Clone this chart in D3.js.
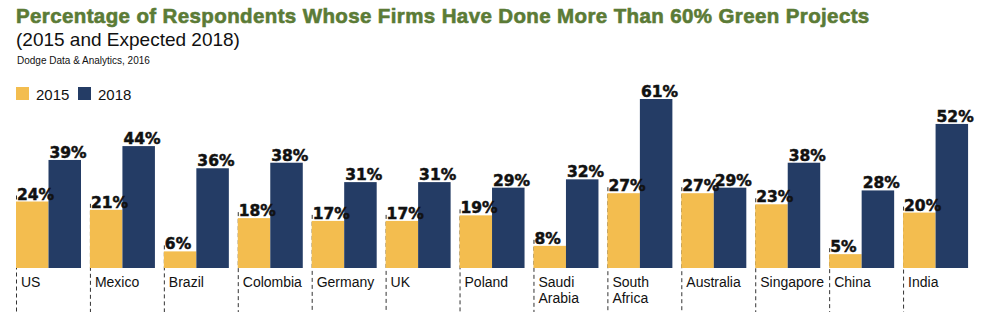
<!DOCTYPE html>
<html><head><meta charset="utf-8">
<script src="https://cdn.jsdelivr.net/npm/d3@7"></script>
<style>body{margin:0;background:#fff}svg{display:block}</style>
</head><body>
<svg id="c" width="1000" height="326"></svg>
<script>
const categories = ["US","Mexico","Brazil","Colombia","Germany","UK","Poland","Saudi Arabia","South Africa","Australia","Singapore","China","India"];
const values2015 = [24,21,6,18,17,17,19,8,27,27,23,5,20];
const values2018 = [39,44,36,38,31,31,29,32,61,29,38,28,52];
const seriesNames = ["2015","2018"];
const colors = ["#f3bd4f","#243c65"];

const svg = d3.select("#c");
const baseY = 268, topY = 99;
const x = d3.scaleBand().domain(categories).range([16, 977]).paddingInner(0).paddingOuter(0);
const y = d3.scaleLinear().domain([0, 61]).range([baseY, topY]);
const barW = 32.5;

svg.append("text").attr("x",16).attr("y",23)
  .attr("font-family","Liberation Sans, Arial, sans-serif").attr("font-weight","bold")
  .attr("font-size",20.5).attr("letter-spacing",0.38)
  .attr("fill","#5b7b36").attr("stroke","#5b7b36").attr("stroke-width",0.6)
  .text("Percentage of Respondents Whose Firms Have Done More Than 60% Green Projects");
svg.append("text").attr("x",16).attr("y",46)
  .attr("font-family","Liberation Sans, Arial, sans-serif")
  .attr("font-size",19).attr("fill","#111").text("(2015 and Expected 2018)");
svg.append("text").attr("x",17).attr("y",64)
  .attr("font-family","Liberation Sans, Arial, sans-serif")
  .attr("font-size",10).attr("fill","#111").text("Dodge Data & Analytics, 2016");

const leg = svg.append("g");
seriesNames.forEach((s,i)=>{
  const lx = 16 + i*62;
  leg.append("rect").attr("x",lx).attr("y",87).attr("width",13).attr("height",13).attr("fill",colors[i]);
  leg.append("text").attr("x",lx+20).attr("y",100)
    .attr("font-family","Liberation Sans Narrow, Arial Narrow, Liberation Sans, sans-serif")
    .attr("font-size",15).attr("fill","#111").text(s);
});

const g = svg.append("g");
categories.forEach((c,i)=>{
  const x0 = x(c);
  const v1 = values2015[i], v2 = values2018[i];
  g.append("line").attr("x1",x0+0.5).attr("x2",x0+0.5).attr("y1",y(v1)-6).attr("y2",312)
    .attr("stroke","#333").attr("stroke-width",1).attr("stroke-dasharray","4,3");
  g.append("rect").attr("x",x0).attr("y",y(v1)).attr("width",barW).attr("height",baseY-y(v1)).attr("fill",colors[0]);
  g.append("rect").attr("x",x0+barW).attr("y",y(v2)).attr("width",barW).attr("height",baseY-y(v2)).attr("fill",colors[1]);
  [[v1,x0],[v2,x0+barW]].forEach(([v,lx])=>{
    g.append("text").attr("x",lx+1).attr("y",y(v)-2)
      .attr("font-family","DejaVu Sans, Liberation Sans, sans-serif").attr("font-weight","bold")
      .attr("font-size",15.5).attr("fill","#111").attr("stroke","#111").attr("stroke-width",0.5)
      .text(v+"%");
  });
  const parts = c.split(" ");
  const t = g.append("text").attr("x",x0+5).attr("y",287)
    .attr("font-family","Liberation Sans Narrow, Arial Narrow, Liberation Sans, sans-serif")
    .attr("font-size",14).attr("fill","#111");
  if (parts.length===2 && (c==="Saudi Arabia"||c==="South Africa")) {
    t.append("tspan").attr("x",x0+5).attr("y",287).text(parts[0]);
    t.append("tspan").attr("x",x0+5).attr("y",303).text(parts[1]);
  } else t.text(c);
});
</script>
</body></html>
